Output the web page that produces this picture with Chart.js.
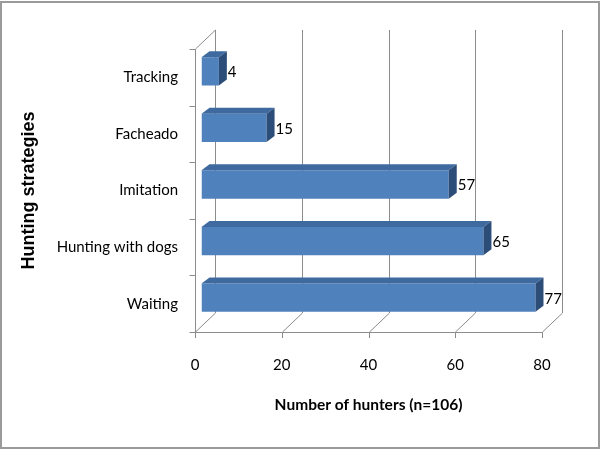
<!DOCTYPE html>
<html>
<head>
<meta charset="utf-8">
<script src="https://cdn.jsdelivr.net/npm/chart.js@4.4.1/dist/chart.umd.min.js"></script>
<style>
    body { margin: 0; background: #fff; }
    canvas { display: block; }
</style>
</head>
<body>
<canvas id="huntingChart" width="600" height="450"></canvas>
<script>
// data
const strategies = ['Tracking', 'Facheado', 'Imitation', 'Hunting with dogs', 'Waiting'];
const hunters = [4, 15, 57, 65, 77];
const xTicks = [0, 20, 40, 60, 80];

// 3D look of the old Excel chart
const WALL = { x: 20, y: -19 };   // depth of floor / walls
const BAR_SHIFT = { x: 6.5, y: -6 }; // bar front face sits inside the depth
const BAR_DEPTH = { x: 8, y: -6 };
const GRID = '#8c8c8c';

function line(ctx, x1, y1, x2, y2) {
    ctx.beginPath();
    ctx.moveTo(x1, y1);
    ctx.lineTo(x2, y2);
    ctx.stroke();
}

const pageFrame = {
    id: 'pageFrame',
    beforeDraw(chart) {
        const ctx = chart.ctx;
        ctx.save();
        ctx.fillStyle = '#fff';
        ctx.fillRect(0, 0, chart.width, chart.height);
        ctx.strokeStyle = '#9a9a9a';
        ctx.lineWidth = 2;
        ctx.strokeRect(1, 2, chart.width - 2, chart.height - 4);
        ctx.restore();
    }
};

const bars3d = {
    id: 'bars3d',
    beforeDatasetsDraw(chart) {
        const ctx = chart.ctx;
        const x = chart.scales.x;
        const y = chart.scales.y;
        const { left, right, top, bottom } = chart.chartArea;

        ctx.save();
        ctx.strokeStyle = GRID;
        ctx.lineWidth = 1;

        // back wall grid, floor diagonals and tick marks
        xTicks.forEach(function (v) {
            const px = Math.round(x.getPixelForValue(v)) + 0.5;
            line(ctx, px + WALL.x, top + WALL.y, px + WALL.x, bottom + WALL.y);
            line(ctx, px, bottom, px + WALL.x, bottom + WALL.y);
            line(ctx, px, bottom, px, bottom + 6);
        });

        const l = Math.round(left) + 0.5;
        const b = Math.round(bottom) + 0.5;
        line(ctx, l, b, Math.round(right) + 0.5, b);
        line(ctx, l, top, l, b);
        line(ctx, l, top, l + WALL.x, top + WALL.y);

        // category tick marks on the side wall
        for (let i = 0; i <= strategies.length; i++) {
            const py = Math.round(y.getPixelForValue(i - 0.5)) + 0.5;
            line(ctx, l - 6, py, l, py);
        }
        ctx.restore();

        ctx.save();
        ctx.translate(BAR_SHIFT.x, BAR_SHIFT.y);
    },
    afterDatasetsDraw(chart) {
        const ctx = chart.ctx;
        const meta = chart.getDatasetMeta(0);

        meta.data.forEach(function (bar) {
            const t = bar.y - bar.height / 2;
            const btm = bar.y + bar.height / 2;
            const x0 = bar.base;
            const x1 = bar.x;

            // top face
            ctx.fillStyle = '#3e6aa0';
            ctx.beginPath();
            ctx.moveTo(x0, t);
            ctx.lineTo(x1, t);
            ctx.lineTo(x1 + BAR_DEPTH.x, t + BAR_DEPTH.y);
            ctx.lineTo(x0 + BAR_DEPTH.x, t + BAR_DEPTH.y);
            ctx.closePath();
            ctx.fill();

            // side face
            ctx.fillStyle = '#2c4d78';
            ctx.beginPath();
            ctx.moveTo(x1, t);
            ctx.lineTo(x1 + BAR_DEPTH.x, t + BAR_DEPTH.y);
            ctx.lineTo(x1 + BAR_DEPTH.x, btm + BAR_DEPTH.y);
            ctx.lineTo(x1, btm);
            ctx.closePath();
            ctx.fill();
        });
        ctx.restore();

        // value labels
        ctx.save();
        ctx.fillStyle = '#000';
        ctx.font = '15px Lato';
        ctx.textAlign = 'left';
        ctx.textBaseline = 'middle';
        meta.data.forEach(function (bar, i) {
            ctx.fillText(String(hunters[i]),
                bar.x + BAR_SHIFT.x + BAR_DEPTH.x + 1,
                bar.y + BAR_SHIFT.y + 1);
        });
        ctx.restore();
    }
};

Chart.defaults.font.family = 'Lato';
Chart.defaults.color = '#000';

new Chart(document.getElementById('huntingChart'), {
    type: 'bar',
    data: {
        labels: strategies,
        datasets: [
            {
                label: 'Number of hunters',
                data: hunters,
                backgroundColor: '#4f81bd',
                borderWidth: 0,
                categoryPercentage: 1,
                barPercentage: 0.5,
            },
        ],
    },
    options: {
        indexAxis: 'y',
        responsive: false,
        animation: false,
        layout: {
            padding: { top: 49, right: 58, left: 0, bottom: 0 }
        },
        plugins: {
            legend: { display: false },
            tooltip: { enabled: false }
        },
        scales: {
            x: {
                min: 0,
                max: 80,
                grid: { display: false, drawTicks: false },
                border: { display: false },
                afterBuildTicks: function (scale) {
                    scale.ticks = xTicks.map(v => ({ value: v }));
                },
                afterFit: function (scale) {
                    scale.height = 118;
                },
                ticks: {
                    padding: 24,
                    font: { size: 15 },
                    maxRotation: 0
                },
                title: {
                    display: true,
                    text: 'Number of hunters (n=106)',
                    font: { size: 15.5, weight: 'bold' },
                    padding: { top: 0, bottom: 36 }
                }
            },
            y: {
                grid: { display: false, drawTicks: false },
                border: { display: false },
                afterFit: function (scale) {
                    scale.width = 195;
                },
                ticks: {
                    padding: 17,
                    font: { size: 15 }
                },
                title: {
                    display: true,
                    text: 'Hunting strategies',
                    font: { family: 'Liberation Sans', size: 18, weight: 'bold' },
                    padding: { top: 18, bottom: 0 }
                }
            }
        }
    },
    plugins: [pageFrame, bars3d]
});
</script>
</body>
</html>
